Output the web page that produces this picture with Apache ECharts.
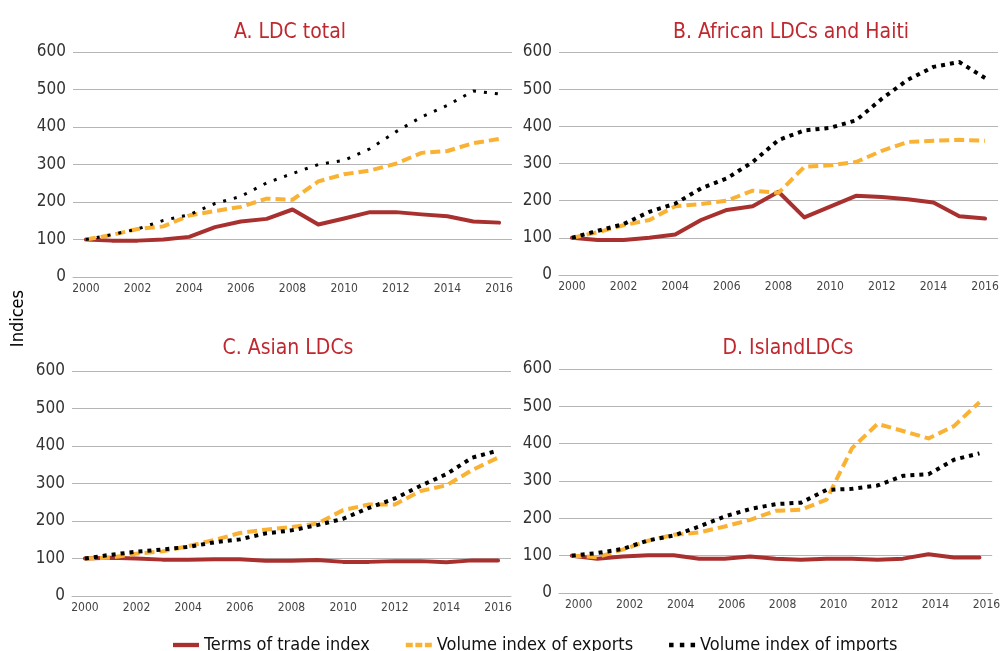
<!DOCTYPE html>
<html>
<head>
<meta charset="utf-8">
<script src="https://cdn.jsdelivr.net/npm/echarts@6/dist/echarts.min.js"></script>
<style>
  html, body { margin: 0; padding: 0; background: #fff; }
  #main { width: 1003px; height: 651px; }
</style>
</head>
<body>
<div id="main"></div>
<script>
// years on the x axis
var years = ['2000','2001','2002','2003','2004','2005','2006','2007','2008','2009','2010','2011','2012','2013','2014','2015','2016'];

// A. LDC total
var ldcTerms   = [100, 97, 97, 100, 107, 133, 148, 155, 180, 140, 156, 173, 173, 167, 162, 148, 145];
var ldcExports = [100, 112, 128, 135, 164, 176, 187, 209, 206, 255, 274, 284, 302, 331, 336, 357, 368];
var ldcImports = [100, 113, 128, 151, 166, 196, 215, 251, 276, 300, 311, 342, 387, 427, 458, 496, 488];

// B. African LDCs and Haiti
var afrTerms   = [100, 94, 94, 100, 109, 148, 175, 185, 224, 155, 184, 213, 210, 204, 195, 158, 152];
var afrExports = [100, 115, 134, 148, 185, 191, 200, 227, 221, 291, 295, 304, 334, 358, 361, 364, 361];
var afrImports = [100, 119, 137, 170, 192, 233, 260, 304, 363, 389, 396, 416, 474, 525, 560, 573, 530];

// C. Asian LDCs
var asiaTerms   = [100, 102, 100, 97, 97, 98, 98, 94, 94, 96, 91, 91, 93, 93, 90, 95, 95];
var asiaExports = [100, 102, 113, 119, 133, 149, 168, 177, 184, 193, 229, 244, 244, 280, 295, 336, 369];
var asiaImports = [100, 110, 118, 124, 131, 143, 151, 167, 175, 189, 206, 235, 260, 294, 325, 369, 388];

// D. IslandLDCs
var islTerms   = [100, 92, 98, 101, 101, 92, 92, 98, 92, 89, 92, 92, 89, 92, 104, 95, 95];
var islExports = [100, 96, 116, 140, 156, 162, 178, 196, 220, 223, 250, 388, 453, 434, 414, 447, 511];
var islImports = [100, 107, 118, 141, 154, 178, 205, 225, 238, 242, 276, 279, 288, 314, 318, 357, 374];

var panelTitles = ['A. LDC total', 'B. African LDCs and Haiti', 'C. Asian LDCs', 'D. IslandLDCs'];
var seriesNames = ['Terms of trade index', 'Volume index of exports', 'Volume index of imports'];
var yTicks = [0, 100, 200, 300, 400, 500, 600];

var panels = [
  [ldcTerms, ldcExports, ldcImports],
  [afrTerms, afrExports, afrImports],
  [asiaTerms, asiaExports, asiaImports],
  [islTerms, islExports, islImports]
];

var FONT = "'Liberation Sans Narrow', 'Arial Narrow', 'DejaVu Sans Condensed', sans-serif";
var RED = '#a8312f';
var ORANGE = '#f9b233';
var TITLE_RED = '#c0282f';

var grids = [
  { left: 73,  top: 52,  width: 439, height: 225 },
  { left: 559, top: 52,  width: 439, height: 223 },
  { left: 72,  top: 371, width: 439, height: 225 },
  { left: 559, top: 369, width: 439, height: 224 }
];
var titlePos = [
  { x: 285, y: 17 },
  { x: 786, y: 17 },
  { x: 283, y: 333 },
  { x: 783, y: 333 }
];

var xAxes = [], yAxes = [], series = [], titles = [];

grids.forEach(function (g, i) {
  xAxes.push({
    type: 'category',
    gridIndex: i,
    data: years,
    boundaryGap: true,
    axisTick: { show: false },
    axisLine: { lineStyle: { color: '#b5b5b5', width: 1 } },
    axisLabel: {
      interval: 1,
      color: '#444',
      fontSize: 12,
      fontFamily: FONT,
      margin: 6,
      padding: i === 3 ? [0, 0, 0, 14] : 0
    }
  });
  yAxes.push({
    type: 'value',
    gridIndex: i,
    min: yTicks[0],
    max: yTicks[yTicks.length - 1],
    interval: 100,
    axisLine: { show: false },
    axisTick: { show: false },
    splitLine: { lineStyle: { color: '#b5b5b5', width: 1 } },
    axisLabel: { color: '#333', fontSize: 17, fontFamily: FONT, margin: 7 }
  });
  titles.push({
    text: panelTitles[i],
    left: titlePos[i].x,
    top: titlePos[i].y,
    textAlign: 'center',
    textStyle: { color: TITLE_RED, fontSize: 21, fontWeight: 'normal', fontFamily: FONT }
  });

  var d = panels[i];
  series.push({
    name: seriesNames[0], type: 'line', xAxisIndex: i, yAxisIndex: i,
    data: d[0], showSymbol: false, symbol: 'none', z: 3,
    lineStyle: { color: RED, width: 4, join: 'round', cap: 'round' },
    itemStyle: { color: RED }
  });
  series.push({
    name: seriesNames[1], type: 'line', xAxisIndex: i, yAxisIndex: i,
    data: d[1], showSymbol: false, symbol: 'none', z: 4,
    lineStyle: { color: ORANGE, width: 4, type: [10, 5], join: 'round' },
    itemStyle: { color: ORANGE }
  });
  series.push({
    name: seriesNames[2], type: 'line', xAxisIndex: i, yAxisIndex: i,
    data: d[2], showSymbol: false, symbol: 'none', z: 5,
    lineStyle: { color: '#000', width: i === 0 ? 3 : 4, type: i === 0 ? [3, 8] : [4, 5], join: 'round' },
    itemStyle: { color: '#000' }
  });
});

var chart = echarts.init(document.getElementById('main'));
chart.setOption({
  animation: false,
  backgroundColor: '#fff',
  title: titles,
  grid: grids,
  xAxis: xAxes,
  yAxis: yAxes,
  series: series,
  legend: {
    data: [
      { name: seriesNames[0], icon: 'path://M0,0h30v5h-30z' },
      { name: seriesNames[1], icon: 'path://M0,0h8v5h-8z M11,0h8v5h-8z M22,0h8v5h-8z' },
      { name: seriesNames[2], icon: 'path://M1,0h5v5h-5z M13,0h5v5h-5z M25,0h5v5h-5z' }
    ],
    left: 168,
    top: 631,
    itemWidth: 26,
    itemHeight: 5,
    itemGap: 36,
    textStyle: { color: '#111', fontSize: 18, fontFamily: FONT }
  },
  graphic: [{
    type: 'text',
    left: 9,
    top: 290,
    rotation: Math.PI / 2,
    style: { text: 'Indices', fill: '#000', fontSize: 18, fontFamily: FONT }
  }]
});
</script>
</body>
</html>
